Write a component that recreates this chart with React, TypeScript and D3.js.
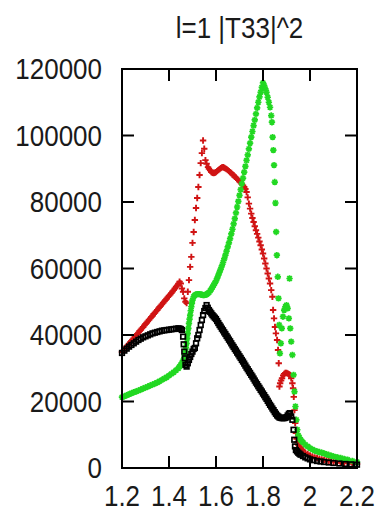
import React from "react";
import * as d3 from "d3";

const title = "l=1 |T33|^2";
const xTicks = [1.2, 1.4, 1.6, 1.8, 2.0, 2.2];
const xTickLabels = ["1.2", "1.4", "1.6", "1.8", "2", "2.2"];
const yTicks = [0, 20000, 40000, 60000, 80000, 100000, 120000];

const redPts: [number, number][] = [
  [1.200,34900],[1.205,35300],[1.210,35700],[1.215,36100],[1.220,36500],[1.225,36900],[1.230,37400],
  [1.235,37800],[1.240,38200],[1.245,38600],[1.250,39000],[1.255,39500],[1.260,39900],[1.265,40300],
  [1.270,40700],[1.275,41200],[1.280,41600],[1.285,42000],[1.290,42400],[1.295,42900],[1.300,43300],
  [1.305,43700],[1.310,44100],[1.315,44600],[1.320,45000],[1.325,45400],[1.330,45800],[1.335,46300],
  [1.340,46700],[1.345,47100],[1.350,47500],[1.355,48000],[1.360,48400],[1.365,48800],[1.370,49200],
  [1.375,49700],[1.380,50100],[1.385,50500],[1.390,50900],[1.395,51400],[1.400,51800],[1.405,52200],
  [1.410,52600],[1.415,53100],[1.420,53500],[1.425,54000],[1.430,54500],[1.435,54900],[1.440,55400],
  [1.445,56000],[1.45,55500],[1.455,54000],[1.46,53000],[1.465,51000],[1.47,50000],[1.475,49600],
  [1.48,53000],[1.485,56500],[1.49,60500],[1.495,63500],[1.50,67700],[1.505,71000],[1.51,74600],
  [1.515,78200],[1.52,81200],[1.525,84500],[1.53,88100],[1.535,91700],[1.54,94700],[1.545,98500],
  [1.55,96000],[1.555,92600],[1.56,91500],[1.566,90500],[1.57,90000],[1.575,89500],[1.58,89000],
  [1.585,88800],[1.59,88700],[1.595,88800],[1.60,89000],[1.605,89300],[1.61,89600],[1.615,89900],
  [1.62,90200],[1.625,90400],[1.63,90500],[1.635,90300],[1.64,90100],[1.645,89900],[1.65,89600],
  [1.655,89300],[1.66,89000],[1.665,88700],[1.67,88300],[1.675,88000],[1.68,87600],[1.685,87300],
  [1.69,86900],[1.695,86600],[1.70,86200],[1.705,85900],[1.71,85500],[1.715,85000],[1.72,84500],
  [1.725,83900],[1.73,83000],[1.735,81400],[1.74,79500],[1.745,78000],[1.75,76500],[1.755,75200],
  [1.76,74000],[1.765,72700],[1.77,71500],[1.775,70400],[1.78,69300],[1.785,68100],[1.79,67000],
  [1.795,65700],[1.80,64500],[1.805,63000],[1.81,61500],[1.815,60000],[1.82,58500],[1.825,57000],
  [1.83,55500],[1.835,53500],[1.84,51500],[1.843,47500],[1.847,45000],[1.851,42400],[1.855,40500],
  [1.86,38500],[1.864,35500],[1.867,31500],[1.87,24500],[1.873,25500],[1.877,26300],[1.881,27000],
  [1.886,27800],[1.89,28300],[1.895,28600],[1.90,28600],[1.905,28400],[1.91,28200],[1.915,28000],
  [1.92,27000],[1.925,25500],[1.928,24000],[1.931,21400],[1.934,17400],[1.937,13500],[1.94,10500],
  [1.943,8800],[1.947,7800],[1.95,7000],[1.955,6500],[1.96,6000],[1.965,5600],[1.97,5200],
  [1.98,4600],[1.99,4200],[2.00,3800],[2.01,3500],[2.02,3200],[2.03,3000],[2.04,2800],[2.05,2600],
  [2.06,2400],[2.07,2250],[2.08,2100],[2.09,2000],[2.10,1900],[2.115,1750],[2.13,1600],
  [2.145,1500],[2.16,1400],[2.18,1300],[2.20,1200]
];

const greenPts: [number, number][] = [
  [1.20,21300],[1.21,21600],[1.22,21900],[1.23,22200],[1.24,22500],[1.25,22800],[1.26,23000],
  [1.27,23300],[1.28,23600],[1.29,23900],[1.30,24200],[1.31,24500],[1.32,24800],[1.33,25100],
  [1.34,25400],[1.35,25700],[1.36,26100],[1.37,26500],[1.38,26900],[1.39,27300],[1.40,27800],
  [1.41,28300],[1.42,28800],[1.43,29400],[1.44,30000],[1.445,30500],[1.45,31000],[1.455,31600],
  [1.46,32300],[1.465,33300],[1.4675,34000],[1.47,35000],[1.4725,36200],[1.475,37500],
  [1.4775,39000],[1.48,40500],[1.4825,42000],[1.485,43500],[1.4875,44800],[1.49,46000],
  [1.4925,47300],[1.495,48500],[1.4975,49600],[1.50,50500],[1.505,51500],[1.51,52000],
  [1.515,52200],[1.52,52300],[1.525,52300],[1.53,52300],[1.535,52200],[1.54,52100],[1.545,52000],
  [1.55,52000],[1.555,52100],[1.56,52200],[1.565,52500],[1.57,52800],[1.575,53300],[1.58,53800],
  [1.585,54400],[1.59,55000],[1.595,55600],[1.600,56300],[1.605,57100],[1.610,58000],[1.615,58900],
  [1.620,59800],[1.625,60800],[1.630,61800],[1.635,62900],[1.640,64000],[1.645,65200],
  [1.650,66500],[1.655,67700],[1.660,69000],[1.665,70400],[1.670,71800],[1.675,73400],
  [1.680,75000],[1.685,76700],[1.690,78500],[1.695,80200],[1.700,82000],[1.705,83700],
  [1.710,85500],[1.715,87200],[1.720,89000],[1.725,90700],[1.730,92500],[1.735,94200],
  [1.740,96000],[1.745,97700],[1.750,99500],[1.755,101200],[1.760,103000],[1.765,104700],
  [1.770,106500],[1.775,108300],[1.780,110000],[1.785,111600],[1.790,113000],[1.795,114500],
  [1.800,115800],[1.805,115000],[1.81,114000],[1.815,113000],[1.82,111500],[1.825,110000],
  [1.83,108500],[1.835,106000],[1.838,104000],[1.841,99500],[1.844,95600],[1.847,91100],
  [1.85,86000],[1.853,79700],[1.856,71000],[1.859,64000],[1.863,57500],[1.866,51000],
  [1.869,43000],[1.872,34500],[1.876,37500],[1.88,42000],[1.885,45500],[1.89,47500],[1.895,48500],
  [1.90,49000],[1.905,48000],[1.91,45000],[1.913,57000],[1.916,42000],[1.92,38000],[1.925,34000],
  [1.93,28000],[1.934,23000],[1.938,18500],[1.942,14500],[1.946,11500],[1.95,9800],[1.955,9100],
  [1.96,8500],[1.965,8100],[1.97,7700],[1.98,7000],[1.99,6500],[2.00,6000],[2.01,5600],
  [2.02,5200],[2.03,5000],[2.04,4800],[2.05,4600],[2.06,4400],[2.07,4150],[2.08,3900],
  [2.09,3700],[2.10,3500],[2.115,3250],[2.13,3000],[2.145,2750],[2.16,2500],[2.18,2150],
  [2.20,1800]
];

const blackPts: [number, number][] = [
  [1.20,34600],[1.21,35300],[1.22,35900],[1.23,36500],[1.24,37000],[1.25,37500],[1.26,38000],
  [1.27,38500],[1.28,38900],[1.29,39300],[1.30,39600],[1.31,39900],[1.32,40200],[1.33,40500],
  [1.34,40700],[1.35,40900],[1.36,41100],[1.37,41300],[1.38,41400],[1.39,41500],[1.40,41600],
  [1.41,41700],[1.42,41800],[1.43,41900],[1.44,42000],[1.445,41900],[1.45,41800],
  [1.455,41500],[1.46,39500],[1.4625,37200],[1.465,35000],[1.4675,33000],[1.47,31000],
  [1.475,30500],[1.48,31500],[1.485,32500],[1.49,33400],[1.495,34300],[1.50,35000],[1.505,35800],
  [1.51,36100],[1.515,37500],[1.52,39000],[1.525,40000],[1.53,41500],[1.535,43000],[1.54,44500],
  [1.545,46000],[1.55,47200],[1.555,48100],[1.56,49000],[1.565,48200],[1.57,47500],[1.575,47000],
  [1.58,46500],[1.585,46000],[1.59,45600],[1.595,45200],[1.60,44800],[1.605,44200],[1.61,43600],
  [1.615,43000],[1.62,42500],[1.625,41900],[1.63,41400],[1.635,40800],[1.64,40300],[1.645,39700],
  [1.65,39200],[1.655,38600],[1.66,38100],[1.665,37500],[1.67,36900],[1.675,36400],[1.68,35800],
  [1.685,35300],[1.69,34700],[1.695,34200],[1.70,33600],[1.705,33100],[1.71,32500],[1.715,32000],
  [1.72,31400],[1.725,30800],[1.73,30200],[1.735,29700],[1.74,29100],[1.745,28600],[1.75,28000],
  [1.755,27500],[1.76,26900],[1.765,26300],[1.77,25700],[1.775,25200],[1.78,24600],[1.785,24100],
  [1.79,23500],[1.795,23000],[1.80,22400],[1.805,21900],[1.81,21300],[1.815,20800],[1.82,20200],
  [1.825,19600],[1.83,19000],[1.835,18500],[1.84,17900],[1.845,17400],[1.85,16800],[1.855,16300],
  [1.86,15800],[1.865,15500],[1.87,15200],[1.875,15100],[1.88,15000],[1.885,15000],[1.89,15000],
  [1.895,15100],[1.90,15300],[1.905,15800],[1.91,16300],[1.915,16500],[1.92,15500],[1.925,14500],
  [1.93,11500],[1.933,8500],[1.936,6500],[1.94,5400],[1.945,5000],[1.95,4600],[1.955,4300],
  [1.96,4000],[1.97,3600],[1.98,3200],[1.99,2900],[2.00,2600],[2.015,2350],[2.03,2100],
  [2.045,1950],[2.06,1800],[2.08,1650],[2.10,1500],[2.125,1350],[2.15,1200],[2.175,1100],
  [2.20,1000]
];

const W = 378, H = 514;
const left = 122, right = 357, top = 69, bottom = 468;
const FONT = "'Liberation Sans', Arial, Helvetica, sans-serif";
const FS = 26;
const SY = 1.12;

export default function App() {
  const x = d3.scaleLinear().domain([1.2, 2.2]).range([left, right]);
  const y = d3.scaleLinear().domain([0, 120000]).range([bottom, top]);
  const tickLen = 12;

  const plus = "M-3.2,0H3.2M0,-3.2V3.2";
  const star = "M-3.2,0H3.2M0,-3.2V3.2M-2.3,-2.3L2.3,2.3M-2.3,2.3L2.3,-2.3";

  return (
    <svg width={W} height={H} style={{ position: "absolute", left: 0, top: 0, background: "#fff" }}>
      <rect x={0} y={0} width={W} height={H} fill="#fff" />
      <text transform={`translate(${(left + right) / 2},38) scale(1,${SY})`} textAnchor="middle"
        fontFamily={FONT} fontSize={FS} fill="#1a1a1a">{title}</text>

      {yTicks.map((t) => (
        <text key={"yl" + t} transform={`translate(102,${y(t) + 10}) scale(1,${SY})`} textAnchor="end"
          fontFamily={FONT} fontSize={FS} fill="#1a1a1a">{String(t)}</text>
      ))}
      {xTicks.map((t, i) => (
        <text key={"xl" + t} transform={`translate(${x(t)},506) scale(1,${SY})`} textAnchor="middle"
          fontFamily={FONT} fontSize={FS} fill="#1a1a1a">{xTickLabels[i]}</text>
      ))}

      <g stroke="#d01414" strokeWidth={1.9} fill="none">
        {redPts.map(([a, b], i) => (
          <path key={"r" + i} d={plus} transform={`translate(${x(a)},${y(b)})`} />
        ))}
      </g>
      <g stroke="#22d822" strokeWidth={1.7} fill="none">
        {greenPts.map(([a, b], i) => (
          <path key={"g" + i} d={star} transform={`translate(${x(a)},${y(b)})`} />
        ))}
      </g>
      <g stroke="#000" strokeWidth={1.7} fill="none">
        {blackPts.map(([a, b], i) => (
          <rect key={"b" + i} x={x(a) - 2.3} y={y(b) - 2.3} width={4.6} height={4.6} />
        ))}
      </g>

      <g stroke="#000" strokeWidth={2}>
        {xTicks.slice(1, -1).map((t) => (
          <g key={"xt" + t}>
            <line x1={x(t)} x2={x(t)} y1={bottom} y2={bottom - tickLen} />
            <line x1={x(t)} x2={x(t)} y1={top} y2={top + tickLen} />
          </g>
        ))}
        {yTicks.slice(1, -1).map((t) => (
          <g key={"yt" + t}>
            <line x1={left} x2={left + tickLen} y1={y(t)} y2={y(t)} />
            <line x1={right} x2={right - tickLen} y1={y(t)} y2={y(t)} />
          </g>
        ))}
      </g>
      <rect x={left} y={top} width={right - left} height={bottom - top} fill="none" stroke="#000" strokeWidth={2} />
    </svg>
  );
}
